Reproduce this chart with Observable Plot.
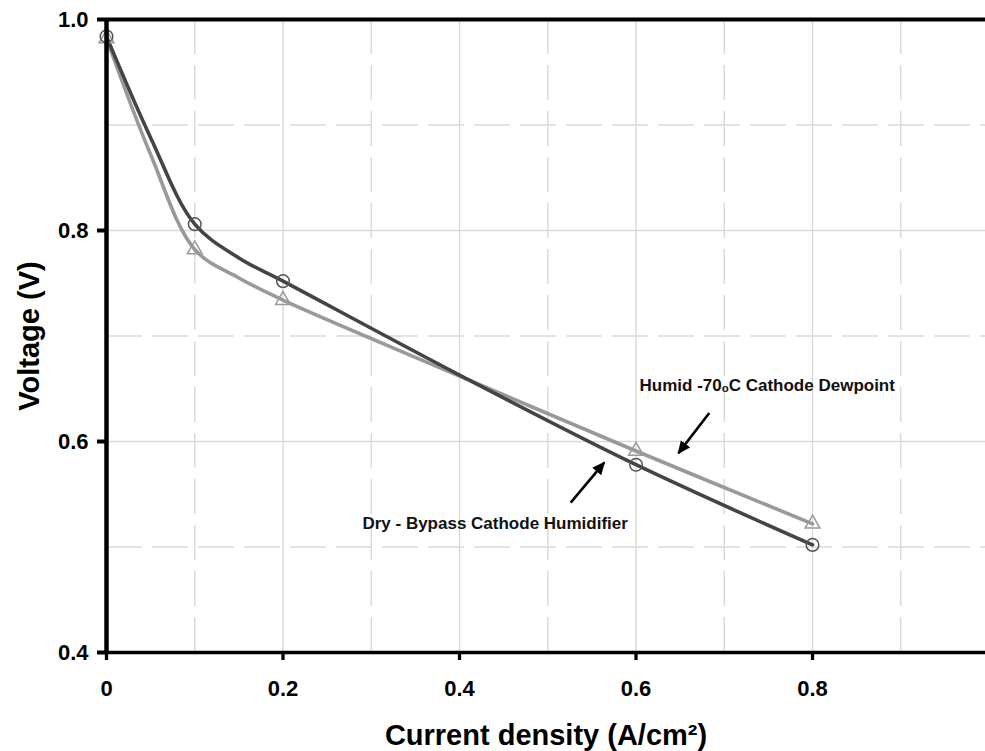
<!DOCTYPE html>
<html>
<head>
<meta charset="utf-8">
<script src="https://cdn.jsdelivr.net/npm/d3@7"></script>
<script src="https://cdn.jsdelivr.net/npm/@observablehq/plot@0.6"></script>
<style>
  html, body { margin: 0; padding: 0; background: #fff; }
</style>
</head>
<body>
<div id="chart"></div>
<script>
// ---- data ----
// measured points (with markers)
const markerDensity = [0, 0.1, 0.2, 0.6, 0.8];              // A/cm²
const dryMarkerVoltage   = [0.984, 0.806, 0.752, 0.578, 0.502];
const humidMarkerVoltage = [0.982, 0.782, 0.734, 0.591, 0.522];
// smoothed curve
const curveDensity = [0, 0.05, 0.1, 0.15, 0.2, 0.4, 0.6, 0.8];
const dryCurveVoltage   = [0.984, 0.888, 0.806, 0.774, 0.752, 0.663, 0.578, 0.502];
const humidCurveVoltage = [0.982, 0.872, 0.782, 0.755, 0.734, 0.662, 0.591, 0.522];

const xTicks = [0, 0.2, 0.4, 0.6, 0.8];
const xTickLabels = ["0", "0.2", "0.4", "0.6", "0.8"];
const xMinorGrid = [0.1, 0.3, 0.5, 0.7, 0.9];
const xMajorGrid = [0.2, 0.4, 0.6, 0.8];
const yTicks = [0.4, 0.6, 0.8, 1.0];
const yTickLabels = ["0.4", "0.6", "0.8", "1.0"];
const yMinorGrid = [0.5, 0.7, 0.9];
const yMajorGrid = [0.6, 0.8];

const annotationText = ["Dry - Bypass Cathode Humidifier", "Humid -70\u2092C Cathode Dewpoint"];
const annotationX = [0.290, 0.604];
const annotationY = [0.522, 0.653];
const arrowX1 = [0.526, 0.683];
const arrowY1 = [0.542, 0.627];
const arrowX2 = [0.564, 0.648];
const arrowY2 = [0.580, 0.589];

const xTitle = "Current density (A/cm\u00B2)";
const yTitle = "Voltage (V)";

// ---- build tables ----
const dryPts = markerDensity.map((x, i) => ({x, v: dryMarkerVoltage[i]}));
const humidPts = markerDensity.map((x, i) => ({x, v: humidMarkerVoltage[i]}));
const dryCurve = curveDensity.map((x, i) => ({x, v: dryCurveVoltage[i]}));
const humidCurve = curveDensity.map((x, i) => ({x, v: humidCurveVoltage[i]}));
const notes = annotationText.map((t, i) => ({t, x: annotationX[i], y: annotationY[i]}));
const arrows = arrowX1.map((_, i) => ({x1: arrowX1[i], y1: arrowY1[i], x2: arrowX2[i], y2: arrowY2[i]}));
const xLab = xTicks.map((x, i) => ({x, t: xTickLabels[i]}));
const yLab = yTicks.map((y, i) => ({y, t: yTickLabels[i]}));

const gridColor = "#d9d9d9";
const font = "'Liberation Sans', Arial, Helvetica, sans-serif";

// filled arrowhead marker
function filledArrow(color, context) {
  const doc = (context && context.document) || document;
  const ns = "http://www.w3.org/2000/svg";
  const m = doc.createElementNS(ns, "marker");
  m.setAttribute("viewBox", "-6 -5 10 10");
  m.setAttribute("markerWidth", "5");
  m.setAttribute("markerHeight", "5");
  m.setAttribute("orient", "auto");
  m.setAttribute("refX", "3");
  m.setAttribute("refY", "0");
  const p = doc.createElementNS(ns, "path");
  p.setAttribute("d", "M-6,-4.5L4,0L-6,4.5Z");
  p.setAttribute("fill", color);
  p.setAttribute("stroke", "none");
  m.appendChild(p);
  return m;
}

const chart = Plot.plot({
  width: 985,
  height: 751,
  marginLeft: 106,
  marginRight: 0,
  marginTop: 19,
  marginBottom: 99,
  style: {fontFamily: font, background: "#fff", overflow: "visible"},
  x: {domain: [0, 0.996]},
  y: {domain: [0.4, 1.0]},
  marks: [
    // grid
    Plot.ruleX(xMinorGrid, {stroke: gridColor, strokeWidth: 1.4, strokeDasharray: "35,11"}),
    Plot.ruleX(xMajorGrid, {stroke: gridColor, strokeWidth: 1.4}),
    Plot.ruleY(yMinorGrid, {stroke: gridColor, strokeWidth: 1.4, strokeDasharray: "36,10"}),
    Plot.ruleY(yMajorGrid, {stroke: gridColor, strokeWidth: 1.4}),
    // axis ticks
    Plot.axisY({ticks: yTicks, tickSize: 9, strokeWidth: 4, text: null, label: null}),
    Plot.axisX({ticks: xTicks, tickSize: 8, strokeWidth: 3.3, text: null, label: null}),
    Plot.text(yLab, {y: "y", text: "t", frameAnchor: "left", dx: -18, textAnchor: "end", lineAnchor: "middle",
      fontSize: 22, fontWeight: "bold", fill: "#000"}),
    Plot.text(xLab, {x: "x", text: "t", frameAnchor: "bottom", dy: 36, textAnchor: "middle", lineAnchor: "middle",
      fontSize: 22, fontWeight: "bold", fill: "#000"}),
    // data lines
    Plot.line(humidCurve, {x: "x", y: "v", stroke: "#999999", strokeWidth: 3.6, curve: "catmull-rom"}),
    Plot.line(dryCurve, {x: "x", y: "v", stroke: "#444444", strokeWidth: 3.6, curve: "catmull-rom"}),
    Plot.dot(humidPts, {x: "x", y: "v", symbol: "triangle", r: 5.5, stroke: "#999999", strokeWidth: 1.5, fill: "none"}),
    Plot.dot(dryPts, {x: "x", y: "v", symbol: "circle", r: 6.3, stroke: "#555555", strokeWidth: 1.5, fill: "none"}),
    // frame lines
    Plot.ruleY([1.0], {stroke: "#000", strokeWidth: 4}),
    Plot.ruleY([0.4], {stroke: "#000", strokeWidth: 3.4}),
    Plot.ruleX([0], {stroke: "#000", strokeWidth: 4.5}),
    // annotations
    Plot.link(arrows, {x1: "x1", y1: "y1", x2: "x2", y2: "y2", stroke: "#000", strokeWidth: 2.6, markerEnd: filledArrow}),
    Plot.text(notes, {x: "x", y: "y", text: "t", textAnchor: "start", lineAnchor: "middle",
      fontSize: 17, fontWeight: "bold", fill: "#111"}),
    // axis titles
    Plot.text([yTitle], {frameAnchor: "left", dx: -77, rotate: -90, textAnchor: "middle", lineAnchor: "middle",
      fontSize: 29, fontWeight: "bold", fill: "#000"}),
    Plot.text([xTitle], {frameAnchor: "bottom", dy: 83, textAnchor: "middle", lineAnchor: "middle",
      fontSize: 29, fontWeight: "bold", fill: "#000"})
  ]
});
document.getElementById("chart").appendChild(chart);
</script>
</body>
</html>
